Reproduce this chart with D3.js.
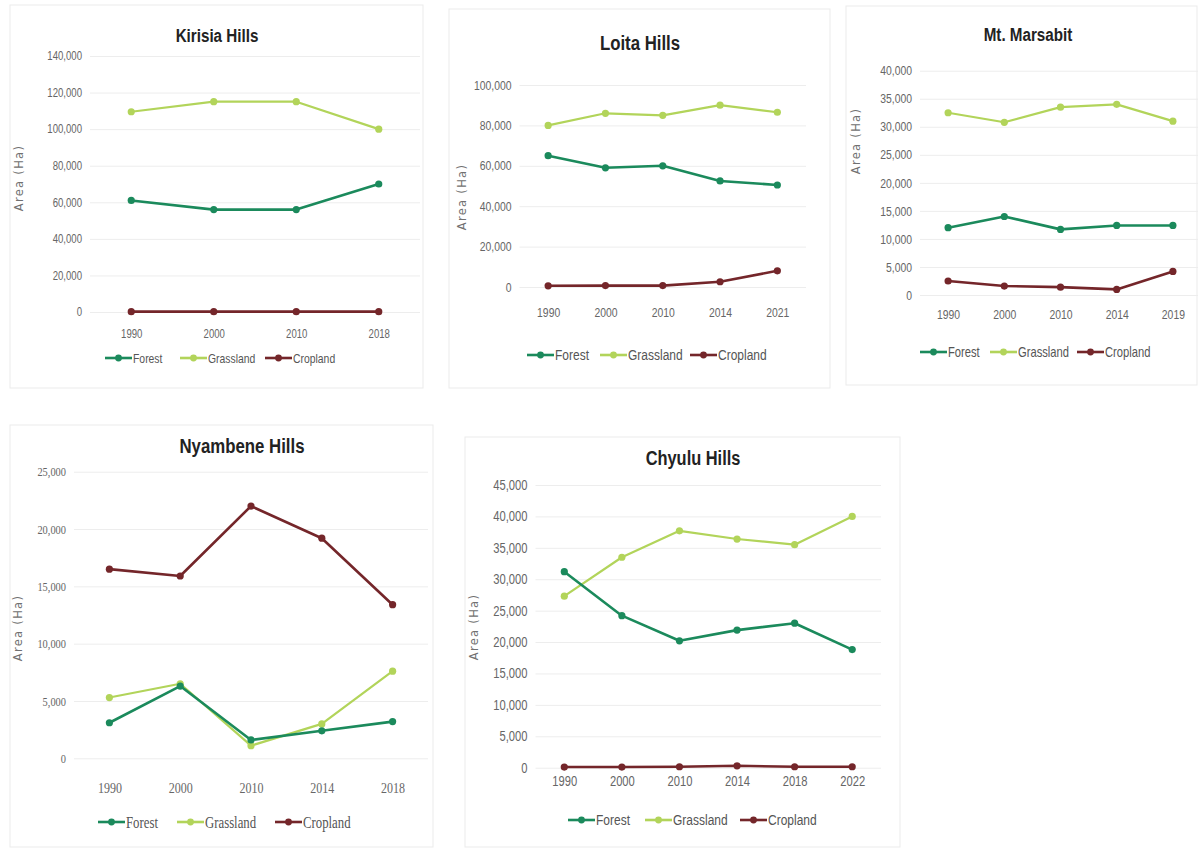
<!DOCTYPE html>
<html>
<head>
<meta charset="utf-8">
<script src="https://cdn.jsdelivr.net/npm/d3@7"></script>
<style>
  html, body { margin: 0; padding: 0; background: #fff; }
  svg { display: block; }
  .tick text { fill: #666; }
  .sans { font-family: "Liberation Sans", Arial, sans-serif; }
  .serif { font-family: "Liberation Serif", "DejaVu Serif", serif; }
</style>
</head>
<body>
<svg id="chart" width="1198" height="848"></svg>
<script>
// Land-cover area (ha) per site and year
const seriesNames = ["Forest", "Grassland", "Cropland"];
const seriesColors = ["#1b8a5c", "#b2d45a", "#74262a"];

const kirisiaYears = ["1990", "2000", "2010", "2018"];
const kirisiaForest = [61000, 56000, 56000, 70000];
const kirisiaGrassland = [109500, 115000, 115000, 100000];
const kirisiaCropland = [200, 200, 200, 200];
const kirisiaTicks = [0, 20000, 40000, 60000, 80000, 100000, 120000, 140000];

const loitaYears = ["1990", "2000", "2010", "2014", "2021"];
const loitaForest = [65000, 59000, 60000, 52500, 50500];
const loitaGrassland = [80000, 86000, 85000, 90000, 86500];
const loitaCropland = [600, 700, 700, 2600, 8000];
const loitaTicks = [0, 20000, 40000, 60000, 80000, 100000];

const marsabitYears = ["1990", "2000", "2010", "2014", "2019"];
const marsabitForest = [12000, 14000, 11700, 12400, 12400];
const marsabitGrassland = [32500, 30800, 33500, 34000, 31000];
const marsabitCropland = [2500, 1600, 1400, 1000, 4200];
const marsabitTicks = [0, 5000, 10000, 15000, 20000, 25000, 30000, 35000, 40000];

const nyambeneYears = ["1990", "2000", "2010", "2014", "2018"];
const nyambeneForest = [3100, 6300, 1600, 2400, 3200];
const nyambeneGrassland = [5300, 6500, 1100, 3000, 7600];
const nyambeneCropland = [16500, 15900, 22000, 19200, 13400];
const nyambeneTicks = [0, 5000, 10000, 15000, 20000, 25000];

const chyuluYears = ["1990", "2000", "2010", "2014", "2018", "2022"];
const chyuluForest = [31200, 24200, 20200, 21900, 23000, 18800];
const chyuluGrassland = [27300, 33500, 37700, 36400, 35500, 40000];
const chyuluCropland = [100, 100, 150, 300, 150, 150];
const chyuluTicks = [0, 5000, 10000, 15000, 20000, 25000, 30000, 35000, 40000, 45000];

const svg = d3.select("#chart");
const fmt = d3.format(",");
const narrow = 0.8; // horizontal squeeze giving a condensed face

// Panel layout: frame, plot area, title, axis label and legend anchors
const panels = [
  { title: "Kirisia Hills", years: kirisiaYears, values: [kirisiaForest, kirisiaGrassland, kirisiaCropland], ticks: kirisiaTicks,
    frame: [10, 5, 423, 388], plot: [90, 56, 420, 312], titleXY: [217, 42], titleSize: 19,
    yLabelXY: [23, 178], legendXY: [105, 358], legendStep: [0, 75, 160],
    tickSize: 12, xTickSize: 12, legendSize: 13, xLabelDy: 17, serifTicks: false },
  { title: "Loita Hills", years: loitaYears, values: [loitaForest, loitaGrassland, loitaCropland], ticks: loitaTicks,
    frame: [449, 9, 830, 388], plot: [519.5, 85, 806, 287], titleXY: [640, 50], titleSize: 21,
    yLabelXY: [466, 197], legendXY: [527, 355], legendStep: [0, 73, 163],
    tickSize: 13, xTickSize: 13, legendSize: 15, xLabelDy: 21, serifTicks: false },
  { title: "Mt. Marsabit", years: marsabitYears, values: [marsabitForest, marsabitGrassland, marsabitCropland], ticks: marsabitTicks,
    frame: [846, 6, 1197, 385], plot: [920, 70.7, 1201, 295], titleXY: [1028, 41], titleSize: 19,
    yLabelXY: [860, 141], legendXY: [920, 352], legendStep: [0, 70, 157],
    tickSize: 13, xTickSize: 13, legendSize: 14, xLabelDy: 15, serifTicks: false },
  { title: "Nyambene Hills", years: nyambeneYears, values: [nyambeneForest, nyambeneGrassland, nyambeneCropland], ticks: nyambeneTicks,
    frame: [10, 425, 433, 847], plot: [74, 471.7, 428, 758.3], titleXY: [242, 453], titleSize: 21,
    yLabelXY: [22, 628], legendXY: [98, 822], legendStep: [0, 79, 177],
    tickSize: 13, xTickSize: 15, legendSize: 16, xLabelDy: 24, serifTicks: true },
  { title: "Chyulu Hills", years: chyuluYears, values: [chyuluForest, chyuluGrassland, chyuluCropland], ticks: chyuluTicks,
    frame: [465, 437, 900, 847], plot: [535.5, 485, 881, 767.7], titleXY: [693, 465], titleSize: 20.5,
    yLabelXY: [478, 627], legendXY: [568, 820], legendStep: [0, 77, 172],
    tickSize: 14, xTickSize: 14, legendSize: 15, xLabelDy: 8, serifTicks: false }
];

panels.forEach(p => {
  const g = svg.append("g");
  const [fx0, fy0, fx1, fy1] = p.frame;
  g.append("rect")
    .attr("x", fx0).attr("y", fy0)
    .attr("width", fx1 - fx0).attr("height", fy1 - fy0)
    .attr("fill", "#fff").attr("stroke", "#ebebeb").attr("stroke-width", 1);

  const [px0, py0, px1, py1] = p.plot;
  const x = d3.scalePoint().domain(p.years).range([px0, px1]).padding(0.5);
  const y = d3.scaleLinear().domain([0, d3.max(p.ticks)]).range([py1, py0]);
  const tickFamily = p.serifTicks ? "serif" : "sans";

  // horizontal gridlines with tick labels
  const yAxis = g.append("g")
    .attr("class", tickFamily)
    .attr("transform", `translate(${px0},0)`)
    .call(d3.axisLeft(y).tickValues(p.ticks).tickFormat(fmt)
      .tickSize(-(px1 - px0)).tickPadding(10));
  yAxis.select(".domain").remove();
  yAxis.selectAll(".tick line").attr("stroke", "#ededed").attr("stroke-width", 1);
  yAxis.selectAll(".tick text").attr("font-size", p.tickSize).attr("transform", `scale(${narrow},1)`);

  // category axis
  const xAxis = g.append("g")
    .attr("class", tickFamily)
    .attr("transform", `translate(0,${py1})`)
    .call(d3.axisBottom(x).tickSize(0).tickPadding(p.xLabelDy));
  xAxis.select(".domain").remove();
  xAxis.selectAll(".tick text").attr("font-size", p.xTickSize).attr("transform", `scale(${narrow},1)`);

  // title
  g.append("text")
    .attr("class", "sans")
    .attr("transform", `translate(${p.titleXY[0]},${p.titleXY[1]}) scale(${narrow},1)`)
    .attr("text-anchor", "middle")
    .attr("font-size", p.titleSize).attr("font-weight", "bold")
    .attr("fill", "#222")
    .text(p.title);

  // y-axis title
  g.append("text")
    .attr("transform", `translate(${p.yLabelXY[0]},${p.yLabelXY[1]}) rotate(-90)`)
    .attr("text-anchor", "middle")
    .attr("font-family", "DejaVu Sans, sans-serif")
    .attr("font-size", 11.5).attr("letter-spacing", 1.3)
    .attr("fill", "#707070")
    .text("Area (Ha)");

  // series lines and markers (cropland first so forest/grassland sit on top)
  const line = d3.line().x((d, i) => x(p.years[i])).y(d => y(d));
  [2, 1, 0].forEach(si => {
    const vals = p.values[si];
    g.append("path")
      .datum(vals)
      .attr("d", line)
      .attr("fill", "none")
      .attr("stroke", seriesColors[si])
      .attr("stroke-width", si === 1 ? 2.2 : 2.6)
      .attr("stroke-linejoin", "round");
    g.selectAll(null)
      .data(vals)
      .join("circle")
      .attr("cx", (d, i) => x(p.years[i]))
      .attr("cy", d => y(d))
      .attr("r", 3.6)
      .attr("fill", seriesColors[si]);
  });

  // legend
  const lg = g.append("g").attr("transform", `translate(${p.legendXY[0]},${p.legendXY[1]})`);
  seriesNames.forEach((name, si) => {
    const ox = p.legendStep[si];
    lg.append("line")
      .attr("x1", ox).attr("x2", ox + 27)
      .attr("y1", 0).attr("y2", 0)
      .attr("stroke", seriesColors[si]).attr("stroke-width", 2.6);
    lg.append("circle")
      .attr("cx", ox + 13.5).attr("cy", 0).attr("r", 3.4)
      .attr("fill", seriesColors[si]);
    lg.append("text")
      .attr("class", tickFamily)
      .attr("transform", `translate(${ox + 28},0) scale(${narrow},1)`)
      .attr("dy", "0.35em")
      .attr("font-size", p.legendSize)
      .attr("fill", "#555")
      .text(name);
  });
});
</script>
</body>
</html>
